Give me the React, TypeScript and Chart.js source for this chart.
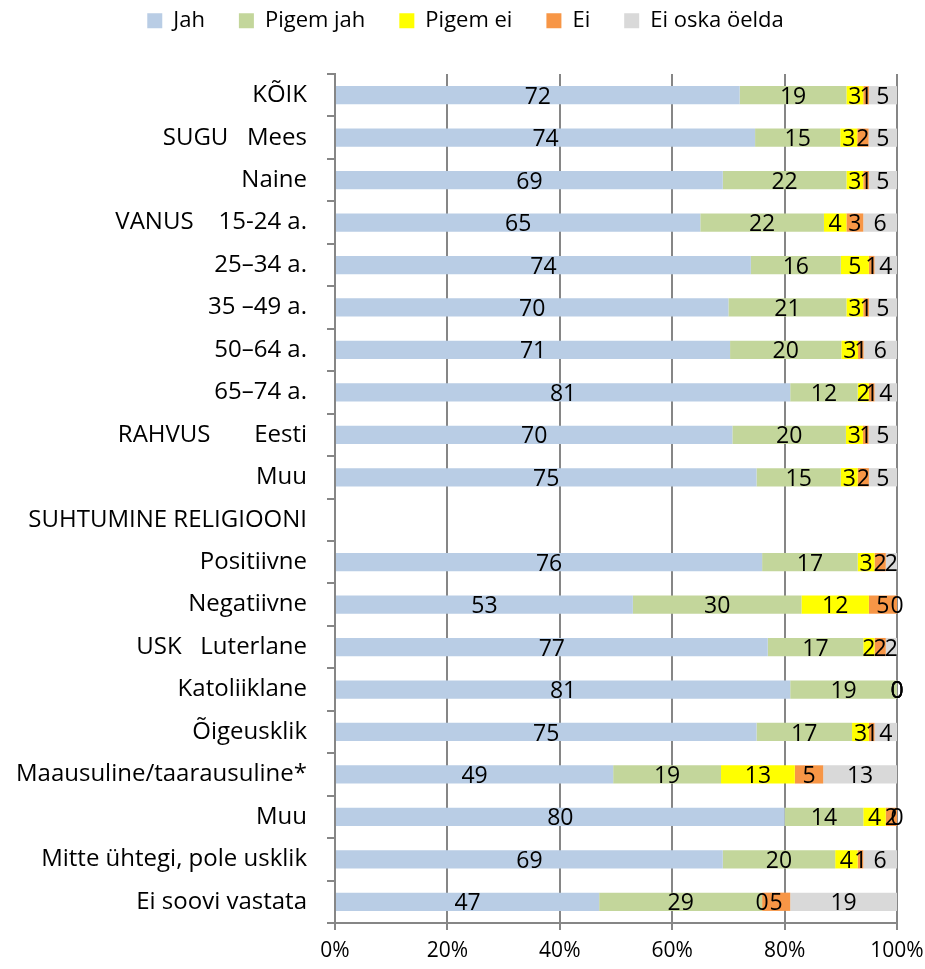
import React, { useEffect, useRef } from "react";
import { Chart, registerables } from "chart.js";

Chart.register(...registerables);

const categories: string[] = [
  "KÕIK",
  "SUGU   Mees",
  "Naine",
  "VANUS    15-24 a.",
  "25–34 a.",
  "35 –49 a.",
  "50–64 a.",
  "65–74 a.",
  "RAHVUS       Eesti",
  "Muu",
  "SUHTUMINE RELIGIOONI",
  "Positiivne",
  "Negatiivne",
  "USK   Luterlane",
  "Katoliiklane",
  "Õigeusklik",
  "Maausuline/taarausuline*",
  "Muu",
  "Mitte ühtegi, pole usklik",
  "Ei soovi vastata",
];

const seriesNames: string[] = ["Jah", "Pigem jah", "Pigem ei", "Ei", "Ei oska öelda"];
const seriesColors: string[] = ["#b9cde5", "#c3d69b", "#ffff00", "#f79646", "#d9d9d9"];

const jah: (number | null)[] = [72, 74, 69, 65, 74, 70, 71, 81, 70, 75, null, 76, 53, 77, 81, 75, 49, 80, 69, 47];
const pigemJah: (number | null)[] = [19, 15, 22, 22, 16, 21, 20, 12, 20, 15, null, 17, 30, 17, 19, 17, 19, 14, 20, 29];
const pigemEi: (number | null)[] = [3, 3, 3, 4, 5, 3, 3, 2, 3, 3, null, 3, 12, 2, 0, 3, 13, 4, 4, 0];
const ei: (number | null)[] = [1, 2, 1, 3, 1, 1, 1, 1, 1, 2, null, 2, 5, 2, 0, 1, 5, 2, 1, 5];
const eiOska: (number | null)[] = [5, 5, 5, 6, 4, 5, 6, 4, 5, 5, null, 2, 0, 2, 0, 4, 13, 0, 6, 19];

const xTicks: number[] = [0, 20, 40, 60, 80, 100];

const FONT = "'Open Sans', Lato, sans-serif";
const LEGEND_PAD = 34;
const LEGEND_FONT = 22;

const valueLabels = {
  id: "valueLabels",
  afterDatasetsDraw(chart: any) {
    const ctx = chart.ctx;
    ctx.save();
    ctx.font = `23px ${FONT}`;
    ctx.fillStyle = "#000";
    ctx.textAlign = "center";
    ctx.textBaseline = "middle";
    chart.data.datasets.forEach((ds: any, di: number) => {
      const meta = chart.getDatasetMeta(di);
      meta.data.forEach((el: any, i: number) => {
        const raw = ds.rawValues[i];
        if (raw === null || raw === undefined) return;
        const cx = (el.x + el.base) / 2;
        ctx.fillText(String(raw), cx, el.y + 2);
      });
    });
    ctx.restore();
  },
};

const legendPlacement = {
  id: "legendPlacement",
  beforeInit(chart: any) {
    const legend = chart.legend;
    if (!legend) return;
    const origFit = legend.fit;
    legend.fit = function () {
      origFit.call(this);
      this.height = 74;
    };
  },
  afterLayout(chart: any) {
    const legend = chart.legend;
    if (!legend) return;
    const top = 23 - LEGEND_PAD - (LEGEND_FONT * 1.2) / 2;
    legend.top = top;
    legend.bottom = top + legend.height;
    legend.left += 17;
    legend.right += 17;
  },
};

export default function App() {
  const canvasRef = useRef<HTMLCanvasElement | null>(null);

  useEffect(() => {
    const series = [jah, pigemJah, pigemEi, ei, eiOska];
    const sums = categories.map((_, i) =>
      series.reduce((s, arr) => s + (arr[i] ?? 0), 0)
    );
    const datasets = series.map((arr, si) => ({
      label: seriesNames[si],
      backgroundColor: seriesColors[si],
      borderWidth: 0,
      data: arr.map((v, i) => (v === null || sums[i] === 0 ? null : (v / sums[i]) * 100)),
      rawValues: arr,
      categoryPercentage: 1,
      barPercentage: 0.43,
    }));

    const chart = new Chart(canvasRef.current as HTMLCanvasElement, {
      type: "bar",
      data: { labels: categories, datasets: datasets as any },
      options: {
        indexAxis: "y",
        animation: false,
        responsive: true,
        maintainAspectRatio: false,
        layout: { padding: { top: 0, right: 28, left: 0, bottom: 0 } },
        plugins: {
          legend: {
            position: "top",
            labels: {
              font: { family: FONT, size: LEGEND_FONT },
              color: "#000",
              boxWidth: 15,
              boxHeight: 15,
              padding: LEGEND_PAD,
            },
          },
          tooltip: { enabled: false },
        },
        scales: {
          x: {
            stacked: true,
            min: 0,
            max: 100,
            afterBuildTicks: (scale: any) => {
              scale.ticks = xTicks.map((v) => ({ value: v }));
            },
            afterFit: (scale: any) => {
              scale.height = 46;
              scale.paddingLeft = 0;
              scale.paddingRight = 0;
            },
            ticks: {
              callback: (v: any) => `${v}%`,
              font: { family: FONT, size: 21 },
              color: "#000",
              padding: 8,
              maxRotation: 0,
            },
            grid: { color: "#868686", lineWidth: 2, drawTicks: true, tickLength: 7 },
            border: { display: true, color: "#868686", width: 2 },
          },
          y: {
            stacked: true,
            afterFit: (scale: any) => {
              scale.width = 335;
              scale.paddingTop = 0;
              scale.paddingBottom = 0;
            },
            ticks: {
              font: { family: FONT, size: 24 },
              color: "#000",
              padding: 20,
              autoSkip: false,
            },
            grid: {
              drawOnChartArea: false,
              drawTicks: true,
              tickLength: 8,
              color: "#868686",
              lineWidth: 2,
              offset: true,
            },
            border: { display: true, color: "#868686", width: 2 },
          },
        },
      },
      plugins: [valueLabels, legendPlacement],
    });
    return () => chart.destroy();
  }, []);

  return (
    <div style={{ position: "absolute", left: 0, top: 0, width: 925, height: 969 }}>
      <canvas ref={canvasRef} />
    </div>
  );
}
